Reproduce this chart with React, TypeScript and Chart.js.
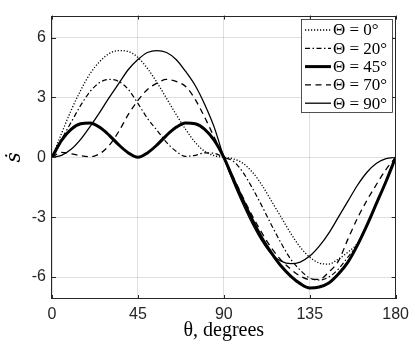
import React, { useEffect, useRef } from "react";
import { Chart, registerables } from "chart.js";

Chart.register(...registerables);

// ---- data ----
const thetaDeg = [0, 5, 10, 15, 20, 25, 30, 35, 40, 45, 50, 55, 60, 65, 70, 75, 80, 85, 90,
  95, 100, 105, 110, 115, 120, 125, 130, 135, 140, 145, 150, 155, 160, 165, 170, 175, 180];

const sDotTheta0 = [0, 1.2, 2.35, 3.35, 4.2, 4.8, 5.2, 5.35, 5.3, 5.0, 4.45, 3.75, 2.95, 2.15, 1.4, 0.75, 0.3, 0.08, 0,
  -0.08, -0.3, -0.75, -1.4, -2.2, -3.0, -3.8, -4.5, -5.0, -5.3, -5.35, -5.1, -4.75, -4.3, -3.35, -2.3, -1.2, 0];

const sDotTheta20 = [0, 0.9, 1.75, 2.6, 3.3, 3.75, 3.9, 3.8, 3.4, 2.7, 1.95, 1.35, 0.75, 0.3, 0.05, 0.1, 0.22, 0.2, 0,
  -0.2, -0.75, -1.55, -2.45, -3.4, -4.3, -5.1, -5.65, -6.05, -6.15, -6.0, -5.6, -5.0, -4.35, -3.4, -2.3, -1.2, 0];

const sDotTheta45 = [0, 0.85, 1.4, 1.68, 1.72, 1.5, 1.1, 0.62, 0.22, 0, 0.22, 0.62, 1.1, 1.5, 1.72, 1.68, 1.4, 0.85, 0,
  -1.1, -2.15, -3.15, -4.05, -4.8, -5.45, -5.95, -6.33, -6.55, -6.5, -6.3, -5.85, -5.25, -4.4, -3.4, -2.3, -1.2, 0];

const sDotTheta70 = [0, 0.25, 0.18, 0.08, 0.03, 0.18, 0.6, 1.3, 2.15, 2.85, 3.4, 3.72, 3.9, 3.8, 3.55, 2.9, 2.0, 1.0, 0,
  -1.0, -2.0, -2.95, -3.8, -4.55, -5.15, -5.6, -5.95, -6.12, -6.12, -5.75, -5.2, -4.1, -3.05, -2.15, -1.35, -0.6, 0];

const sDotTheta90 = [0, 0.1, 0.4, 0.9, 1.55, 2.25, 3.0, 3.7, 4.4, 4.9, 5.25, 5.35, 5.25, 4.9, 4.3, 3.6, 2.65, 1.5, 0,
  -1.25, -2.35, -3.35, -4.2, -4.85, -5.2, -5.33, -5.25, -4.95, -4.45, -3.8, -3.0, -2.2, -1.4, -0.75, -0.3, -0.07, 0];

const seriesValues = [sDotTheta0, sDotTheta20, sDotTheta45, sDotTheta70, sDotTheta90];
const legendLabels = ["Θ = 0°", "Θ = 20°", "Θ = 45°", "Θ = 70°", "Θ = 90°"];
const xTicks = [0, 45, 90, 135, 180];
const yTicks = [-6, -3, 0, 3, 6];

// ---- styles ----
const lineStyles = [
  { width: 1.3, dash: [1.2, 1.8] },
  { width: 1.2, dash: [5, 2.5, 1.5, 2.5] },
  { width: 3, dash: [] as number[] },
  { width: 1.3, dash: [6, 4.5] },
  { width: 1.3, dash: [] as number[] },
];
const axisColor = "#262626";
const gridColor = "rgba(38,38,38,0.15)";

const framePlugin = {
  id: "frameAndLegend",
  afterDatasetsDraw(chart: any) {
    const { ctx, chartArea, scales } = chart;
    const { left, right, top, bottom } = chartArea;
    const xs = scales.x;
    const ys = scales.y;
    ctx.save();
    ctx.strokeStyle = axisColor;
    ctx.lineWidth = 1;
    ctx.setLineDash([]);
    ctx.beginPath();
    for (const t of xTicks) {
      const px = Math.round(xs.getPixelForValue(t)) + 0.5;
      ctx.moveTo(px, bottom);
      ctx.lineTo(px, bottom - 4);
      ctx.moveTo(px, top);
      ctx.lineTo(px, top + 4);
    }
    for (const t of yTicks) {
      const py = Math.round(ys.getPixelForValue(t)) + 0.5;
      ctx.moveTo(left, py);
      ctx.lineTo(left + 4, py);
      ctx.moveTo(right, py);
      ctx.lineTo(right - 4, py);
    }
    ctx.stroke();
    ctx.strokeRect(Math.round(left) - 0.5, Math.round(top) + 0.5, Math.round(right - left), Math.round(bottom - top) - 1);

    // legend
    const lx = 301, ly = 19, lw = 91, lh = 93;
    ctx.fillStyle = "#ffffff";
    ctx.fillRect(lx, ly, lw, lh);
    ctx.strokeStyle = axisColor;
    ctx.lineWidth = 0.8;
    ctx.strokeRect(lx + 0.5, ly + 0.5, lw, lh);
    ctx.font = '17px "Liberation Serif"';
    ctx.textBaseline = "middle";
    ctx.textAlign = "left";
    ctx.fillStyle = "#000000";
    for (let i = 0; i < legendLabels.length; i++) {
      const cy = 30 + i * 18.3;
      ctx.beginPath();
      ctx.lineWidth = lineStyles[i].width;
      ctx.setLineDash(lineStyles[i].dash);
      ctx.strokeStyle = "#000000";
      ctx.moveTo(305, cy);
      ctx.lineTo(331, cy);
      ctx.stroke();
      ctx.setLineDash([]);
      ctx.fillText(legendLabels[i], 333, cy + 1);
    }
    ctx.restore();
  },
};

export default function App() {
  const canvasRef = useRef<HTMLCanvasElement | null>(null);

  useEffect(() => {
    document.body.style.margin = "0";
    const canvas = canvasRef.current;
    if (!canvas) return;
    const datasets = seriesValues.map((vals, i) => ({
      label: legendLabels[i],
      data: thetaDeg.map((t, j) => ({ x: t, y: vals[j] })),
      borderColor: "#000000",
      backgroundColor: "#000000",
      borderWidth: lineStyles[i].width,
      borderDash: lineStyles[i].dash,
      pointRadius: 0,
      fill: false,
      cubicInterpolationMode: "monotone" as const,
    }));
    const chart = new Chart(canvas, {
      type: "line",
      data: { datasets },
      plugins: [framePlugin],
      options: {
        responsive: false,
        animation: false,
        devicePixelRatio: 1,
        layout: { padding: { top: 10, right: 17, left: 0, bottom: 0 } },
        plugins: { legend: { display: false }, tooltip: { enabled: false } },
        scales: {
          x: {
            type: "linear",
            min: 0,
            max: 180,
            afterBuildTicks: (s: any) => {
              s.ticks = xTicks.map((v) => ({ value: v }));
            },
            afterFit: (s: any) => {
              s.height = 47;
            },
            grid: { color: gridColor, drawTicks: false, lineWidth: 1 },
            border: { display: false },
            ticks: {
              font: { family: "Liberation Sans", size: 16 },
              color: axisColor,
              padding: 6,
              maxRotation: 0,
            },
            title: {
              display: true,
              text: "θ, degrees",
              font: { family: "Liberation Serif", size: 20 },
              color: "#000000",
              padding: { top: 0, bottom: 3 },
            },
          },
          y: {
            type: "linear",
            min: -7.1,
            max: 7.1,
            afterBuildTicks: (s: any) => {
              s.ticks = yTicks.map((v) => ({ value: v }));
            },
            afterFit: (s: any) => {
              s.width = 52;
            },
            grid: { color: gridColor, drawTicks: false, lineWidth: 1 },
            border: { display: false },
            ticks: {
              font: { family: "Liberation Sans", size: 16 },
              color: axisColor,
              padding: 6,
            },
            title: {
              display: true,
              text: "ṡ",
              font: { family: "DejaVu Serif", size: 20, style: "italic" },
              color: "#000000",
              padding: { top: 3, bottom: 0 },
            },
          },
        },
      },
    });
    return () => chart.destroy();
  }, []);

  return (
    <div style={{ width: 415, height: 346 }}>
      <canvas ref={canvasRef} width={415} height={346} />
    </div>
  );
}
